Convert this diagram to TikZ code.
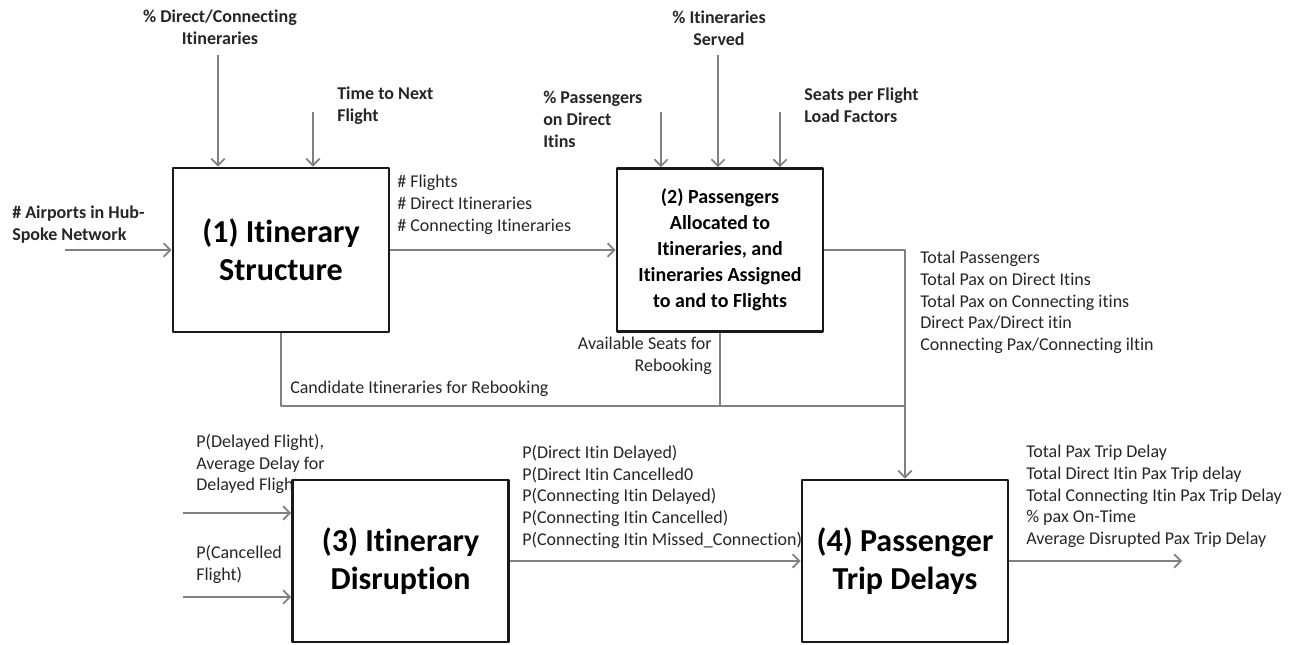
\documentclass[tikz,border=0pt]{standalone}
\usepackage{fontspec}
\setmainfont{Carlito}[Ligatures=NoCommon]
\usetikzlibrary{arrows.meta}

\tikzset{
  blk/.style={draw=black!90,line width=2.2pt,fill=white,align=center,inner sep=0pt,
    font=\bfseries\fontsize{24}{28.5}\selectfont},
  lbl/.style={inner sep=0pt,align=left,anchor=north west,text=black!85,
    font=\fontsize{13.5}{16.3}\selectfont},
  blbl/.style={lbl,font=\bfseries\fontsize{13.5}{16.3}\selectfont},
  wire/.style={draw=black!50,line width=1.3pt},
}

\begin{document}
\begin{tikzpicture}[x=0.75pt,y=-0.75pt,>={Straight Barb[length=5pt,width=10pt]},line join=round]
			\useasboundingbox (0,0) rectangle (1295,645);
			% labels (drawn first, the boxes cover their ends)
			\node[blbl,align=center,anchor=north] (tDC) at (220,10) {\% Direct/Connecting\\Itineraries};
			\node[blbl] (tNext) at (337,87) {Time to Next\\Flight};
			\node[blbl,align=center,anchor=north] (tServ) at (719,11) {\% Itineraries\\Served};
			\node[blbl] (tDir) at (543,91) {\% Passengers\\on Direct\\Itins};
			\node[blbl] (tSeats) at (804,88) {Seats per Flight\\Load Factors};
			\node[blbl] (tAirp) at (12,206) {\# Airports in Hub-\\Spoke Network};
			\node[lbl] (tFl) at (397,175) {\# Flights\\\# Direct Itineraries\\\# Connecting Itineraries};
			\node[lbl] (tTot) at (920,251) {Total Passengers\\Total Pax on Direct Itins\\Total Pax on Connecting itins\\Direct Pax/Direct itin\\Connecting Pax/Connecting iltin};
			\node[lbl,align=right,anchor=north east] (tAvail) at (712,337) {Available Seats for\\Rebooking};
			\node[lbl] (tCand) at (290,381) {Candidate Itineraries for Rebooking};
			\node[lbl] (tPDel) at (196,434) {P(Delayed Flight),\\Average Delay for\\Delayed Flight};
			\node[lbl] (tPCan) at (196,545) {P(Cancelled\\Flight)};
			\node[lbl] (tPIt) at (522,445) {P(Direct Itin Delayed)\\P(Direct Itin Cancelled0\\P(Connecting Itin Delayed)\\P(Connecting Itin Cancelled)\\P(Connecting Itin Missed\_Connection)};
			\node[lbl] (tOut) at (1026,445) {Total Pax Trip Delay\\Total Direct Itin Pax Trip delay\\Total Connecting Itin Pax Trip Delay\\\% pax On-Time\\Average Disrupted Pax Trip Delay};
			% boxes
			\node[blk,minimum width=162pt,minimum height=123pt] (itin) at (281,250) {(1) Itinerary\\Structure};
			\node[blk,minimum width=154.5pt,minimum height=122pt,font=\bfseries\fontsize{15}{19.5}\selectfont] (pax) at (720,250)
				{(2) Passengers\\Allocated to\\Itineraries, and\\Itineraries Assigned\\to and to Flights};
			\node[blk,minimum width=162pt,minimum height=121.5pt] (disr) at (400.5,561) {(3) Itinerary\\Disruption};
			\node[blk,minimum width=154.5pt,minimum height=121.5pt] (delay) at (905,561) {(4) Passenger\\Trip Delays};
			% free ends
			\coordinate (inDC) at (218,55);
			\coordinate (inNext) at (313,112);
			\coordinate (inDir) at (661,112);
			\coordinate (inServ) at (718,55);
			\coordinate (inSeats) at (780,112);
			\coordinate (inAirp) at (65,250);
			\coordinate (inPDel) at (183,513);
			\coordinate (inPCan) at (183,597);
			\coordinate (outEnd) at (1182,561);
			\coordinate (rebook) at (905,406);
			% connectors
			\draw[wire,->] (inDC) -- (inDC |- itin.north);
			\draw[wire,->] (inNext) -- (inNext |- itin.north);
			\draw[wire,->] (inDir) -- (inDir |- pax.north);
			\draw[wire,->] (inServ) -- (inServ |- pax.north);
			\draw[wire,->] (inSeats) -- (inSeats |- pax.north);
			\draw[wire,->] (inAirp) -- (itin.west);
			\draw[wire,->] (itin.east) -- (pax.west);
			\draw[wire,->] (pax.east) -| (delay.north);
			\draw[wire] (itin.south) |- (rebook);
			\draw[wire] (pax.south) -- (pax.south |- rebook);
			\draw[wire,->] (inPDel) -- (inPDel -| disr.west);
			\draw[wire,->] (inPCan) -- (inPCan -| disr.west);
			\draw[wire,->] (disr.east) -- (delay.west);
			\draw[wire,->] (delay.east) -- (outEnd);
	\end{tikzpicture}
\end{document}
